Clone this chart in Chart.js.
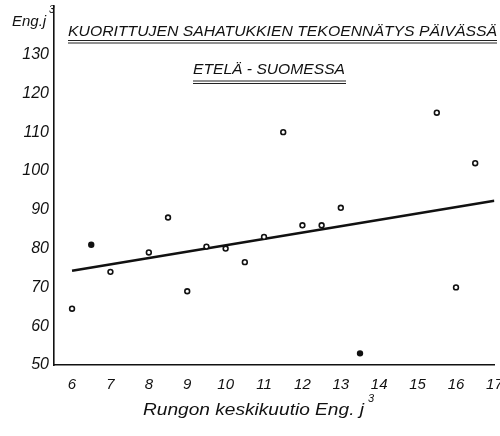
<!DOCTYPE html>
<html>
<head>
<meta charset="utf-8">
<script src="https://cdn.jsdelivr.net/npm/chart.js@4/dist/chart.umd.min.js"></script>
<style>
  html, body { margin: 0; padding: 0; background: #fff; }
  canvas { display: block; }
</style>
</head>
<body>
<canvas id="chart" width="500" height="436"></canvas>
<script>
const stemVolume = [6, 6.5, 7, 8, 8.5, 9, 9.5, 10, 10.5, 11, 11.5, 12, 12.5, 13, 13.5, 15.5, 16, 16.5];
const dailyRecord = [64.5, 81, 74, 79, 88, 69, 80.5, 80, 76.5, 83, 110, 86, 86, 90.5, 53, 115, 70, 102];
const filledPoint = [false, true, false, false, false, false, false, false, false, false, false, false, false, false, true, false, false, false];
const trendX = [6, 17];
const trendY = [74.3, 92.3];
const xTicks = [6, 7, 8, 9, 10, 11, 12, 13, 14, 15, 16, 17];
const yTicks = [50, 60, 70, 80, 90, 100, 110, 120, 130];

const title1 = "KUORITTUJEN SAHATUKKIEN TEKOENNÄTYS PÄIVÄSSÄ";
const title2 = "ETELÄ - SUOMESSA";
const xTitle = "Rungon keskikuutio Eng. j";
const yTitle = "Eng.j";

const FONT = "'Liberation Sans', Arial, sans-serif";

// fit a text into a given width by squeezing/stretching it horizontally
function fitText(ctx, text, left, right, y) {
    const w = ctx.measureText(text).width;
    ctx.save();
    ctx.translate(left, y);
    ctx.scale((right - left) / w, 1);
    ctx.fillText(text, 0, 0);
    ctx.restore();
}

function doubleLine(ctx, x1, x2, y) {
    ctx.beginPath();
    ctx.moveTo(x1, y); ctx.lineTo(x2, y);
    ctx.moveTo(x1, y + 2.5); ctx.lineTo(x2, y + 2.5);
    ctx.stroke();
}

const textPlugin = {
    id: "texts",
    afterDraw(chart) {
        const ctx = chart.ctx;
        ctx.save();
        ctx.fillStyle = "#111";
        ctx.strokeStyle = "#222";
        ctx.lineWidth = 1;
        ctx.textBaseline = "middle";
        ctx.textAlign = "left";

        ctx.font = "italic 15px " + FONT;
        fitText(ctx, title1, 68, 497, 32);
        doubleLine(ctx, 68, 497, 40.5);
        fitText(ctx, title2, 193, 345, 70);
        doubleLine(ctx, 193, 346, 81);

        ctx.font = "italic 15px " + FONT;
        ctx.fillText(yTitle, 12, 22);
        ctx.font = "italic 10px " + FONT;
        ctx.fillText("3", 49, 10);

        ctx.font = "italic 16px " + FONT;
        fitText(ctx, xTitle, 143, 364, 411);
        ctx.font = "italic 11px " + FONT;
        ctx.fillText("3", 368, 399);
        ctx.restore();
    }
};

new Chart(document.getElementById("chart").getContext("2d"), {
    data: {
        datasets: [{
            type: "scatter",
            data: stemVolume.map((x, i) => ({ x: x, y: dailyRecord[i] })),
            pointRadius: 2.4,
            pointBorderWidth: 1.6,
            pointBorderColor: "#111",
            pointBackgroundColor: filledPoint.map(f => f ? "#111" : "#fff")
        }, {
            type: "line",
            data: trendX.map((x, i) => ({ x: x, y: trendY[i] })),
            borderColor: "#111",
            borderWidth: 2.6,
            pointRadius: 0,
            fill: false
        }]
    },
    options: {
        responsive: false,
        animation: false,
        layout: { padding: 0 },
        plugins: {
            legend: { display: false },
            tooltip: { enabled: false }
        },
        scales: {
            x: {
                type: "linear",
                min: 5.53,
                max: 17,
                grid: { display: false, drawTicks: false },
                border: { color: "#111", width: 1.6 },
                afterBuildTicks(scale) {
                    scale.ticks = xTicks.map(v => ({ value: v }));
                },
                afterFit(scale) {
                    scale.height = 71;
                    scale.paddingLeft = 0;
                    scale.paddingRight = 0;
                },
                ticks: {
                    color: "#111",
                    padding: 11,
                    maxRotation: 0,
                    autoSkip: false,
                    font: { family: FONT, size: 15, style: "italic" }
                }
            },
            y: {
                min: 50,
                max: 142.6,
                grid: { display: false, drawTicks: false },
                border: { color: "#111", width: 1.6 },
                afterBuildTicks(scale) {
                    scale.ticks = yTicks.map(v => ({ value: v }));
                },
                afterFit(scale) {
                    scale.width = 54;
                    scale.paddingTop = 0;
                    scale.paddingBottom = 0;
                },
                ticks: {
                    color: "#111",
                    padding: 5,
                    autoSkip: false,
                    font: { family: FONT, size: 16, style: "italic" }
                }
            }
        }
    },
    plugins: [textPlugin]
});
</script>
</body>
</html>
